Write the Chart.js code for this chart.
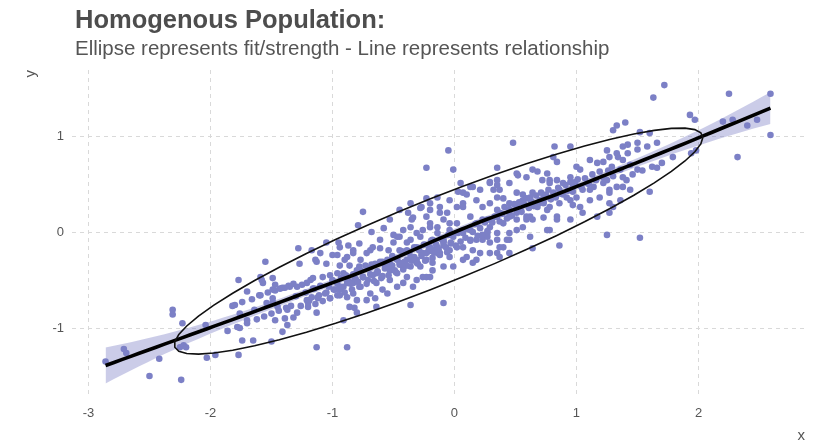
<!DOCTYPE html>
<html>
<head>
<meta charset="utf-8">
<title>Homogenous Population</title>
<script src="https://cdn.jsdelivr.net/npm/chart.js@4/dist/chart.umd.min.js"></script>
<style>
  html, body { margin: 0; padding: 0; background: #ffffff; }
  canvas { display: block; }
</style>
</head>
<body>
<canvas id="chart" width="818" height="442"></canvas>
<script>
// ---- text ----
const titleText = 'Homogenous Population:';
const subtitleText = 'Ellipse represents fit/strength - Line represents relationship';
const xAxisTitle = 'x';
const yAxisTitle = 'y';

// ---- tick labels ----
const xTicks = [-3, -2, -1, 0, 1, 2];
const yTicks = [-1, 0, 1];

// ---- observations [x, y], grouped along the x range ----
const tailLow = [
  [-2.86,-1.35],[-2.71,-1.22],[-2.69,-1.26],[-2.42,-1.32],[-2.50,-1.50],[-2.24,-1.54],
  [-2.31,-0.81],[-2.31,-0.86],[-2.23,-0.95],[-2.22,-1.18],[-2.20,-1.20],[-2.25,-1.20],
  [-2.04,-0.97],[-2.03,-1.31],[-1.96,-1.28],[-1.80,-0.76],[-1.77,-0.50],[-1.76,-1.00],
  [-1.74,-1.13],[-1.77,-1.28],[-1.70,-0.62],[-1.70,-0.92],[-1.65,-1.13],[-1.76,-0.85],
  [-1.64,-0.81]
];

// overlapping observations along the trend in the lower arm
const lowerDense = [
  [-1.86,-1.03],[-1.82,-0.77],[-1.78,-0.99],[-1.74,-0.73],[-1.70,-0.95],[-1.66,-0.70],
  [-1.62,-0.91],[-1.59,-0.66],[-1.56,-0.88],[-1.53,-0.63],[-1.50,-0.85],[-1.47,-0.61],
  [-1.44,-0.82],[-1.41,-0.58],[-1.38,-0.79],[-1.36,-0.56],[-1.34,-0.77],[-1.32,-0.54]
];

const lowerArm = [
  [-1.55,-0.31],[-1.58,-0.50],[-1.49,-0.48],[-1.60,-0.66],[-1.49,-0.60],[-1.43,-0.59],
  [-1.35,-0.57],[-1.25,-0.55],[-1.18,-0.50],[-1.16,-0.59],[-1.08,-0.47],[-1.02,-0.45],
  [-0.96,-0.43],[-0.88,-0.47],[-0.82,-0.50],[-1.12,-0.69],[-1.02,-0.69],[-0.94,-0.66],
  [-0.88,-0.68],[-0.80,-0.71],[-0.72,-0.71],[-0.65,-0.69],[-0.55,-0.64],[-0.82,-0.79],
  [-1.20,-0.78],[-1.29,-0.84],[-1.39,-0.90],[-1.47,-0.92],[-1.37,-0.97],[-1.41,-1.04],
  [-1.50,-1.14],[-1.13,-1.20],[-0.88,-1.20],[-0.64,-0.78],[-1.49,-0.73],
  [-1.28,-0.17],[-1.17,-0.19],[-1.10,-0.22],[-0.96,-0.24],[-0.88,-0.26],[-0.83,-0.22],
  [-0.69,-0.19],[-0.61,-0.17],[-0.54,-0.19],[-0.95,-0.11],[-0.87,-0.14],[-0.78,-0.12],
  [-0.75,0.21],[-0.79,0.07],[-0.58,0.04],[-0.68,0.00],[-0.50,-0.03],
  [-1.27,-0.33],[-1.14,-0.29],[-1.05,-0.33],[-0.94,-0.35],[-0.86,-0.35],[-0.78,-0.36],
  [-0.68,-0.34],[-0.59,-0.31],[-0.53,-0.33],
  [-1.05,-0.11],[-1.00,-0.24],[-0.90,-0.29],[-1.13,-0.31],[-1.59,-0.47],[-1.57,-0.53],
  [-1.47,-0.55],[-1.39,-0.58],[-1.29,-0.57],[-1.21,-0.53],[-1.16,-0.48],[-1.49,-0.69],
  [-1.54,-0.74],[-1.32,-0.89],[-1.13,-0.84],[-0.83,-0.53],[-1.45,-0.78],[-1.37,-0.81],
  [-1.21,-0.71],
  [-0.94,-0.16],[-0.83,-0.19],[-0.77,-0.29],[-0.72,-0.22],[-0.67,-0.16],[-0.61,-0.08],
  [-0.50,-0.11],[-0.91,-0.43],[-0.80,-0.40],[-0.75,-0.47],[-0.64,-0.43],[-0.53,-0.40],
  [-1.00,-0.50],[-0.94,-0.60],[-0.88,-0.53],[-0.83,-0.64],[-0.77,-0.57],[-0.69,-0.64],
  [-0.64,-0.53],[-0.59,-0.60],[-0.53,-0.50],[-0.91,-0.92],[-0.80,-0.84],[-0.86,-0.78]
];

// solid, heavily overlapped mass just under the trend, left of centre
const lowerSolid = [
  [-1.20,-0.74],[-1.17,-0.68],[-1.14,-0.75],[-1.11,-0.66],[-1.08,-0.72],[-1.05,-0.63],
  [-1.02,-0.69],[-0.99,-0.60],[-0.96,-0.66],[-0.93,-0.57],[-0.90,-0.63],[-0.87,-0.53],
  [-0.84,-0.60],[-0.81,-0.50],[-0.78,-0.57],[-0.75,-0.47],[-0.72,-0.54],[-0.69,-0.44],
  [-0.66,-0.51],[-0.63,-0.41],[-0.60,-0.48],[-0.57,-0.38],[-0.54,-0.45],[-0.51,-0.35],
  [-0.48,-0.42],[-0.45,-0.32],[-0.42,-0.39],[-0.39,-0.29],[-0.36,-0.36],[-0.33,-0.26],
  [-0.30,-0.33],[-0.27,-0.23],[-0.24,-0.30],[-0.21,-0.20],[-0.18,-0.27],[-0.15,-0.17],
  [-0.12,-0.24],[-0.09,-0.14],[-0.06,-0.21],[-0.03,-0.11]
];

const core = [
  [-0.35,0.13],[-0.28,0.25],[-0.20,0.30],[-0.12,0.20],[-0.31,-0.01],[-0.26,0.02],
  [-0.20,0.09],[-0.14,0.05],[-0.09,0.13],[-0.04,0.09],[-0.45,-0.05],[-0.39,-0.11],
  [-0.47,-0.29],[-0.42,-0.36],[-0.36,-0.26],[-0.31,-0.32],[-0.20,-0.16],[-0.14,-0.22],
  [-0.09,-0.11],[-0.04,-0.19],[-0.47,-0.57],[-0.39,-0.47],[-0.31,-0.50],[-0.23,-0.47],
  [-0.18,-0.40],
  [-0.05,0.85],[0.48,0.93],[-0.23,0.67],[-0.01,0.65],[0.35,0.67],[0.52,0.59],[0.59,0.57],
  [0.29,0.52],[0.35,0.49],[0.32,0.44],[0.03,0.42],[0.10,0.39],[-0.14,0.36],[-0.04,0.33],
  [-0.27,0.26],[-0.20,0.23],[-0.38,0.20],[-0.34,0.15],[-0.53,0.13],[0.18,0.33],[0.23,0.26],
  [0.29,0.30],[0.40,0.35],[0.45,0.30],[0.51,0.26],[0.56,0.39],[0.59,0.16],[0.45,-0.01],
  [0.43,-0.08],[0.37,-0.16],[0.35,-0.22],[0.27,-0.01],[0.23,-0.08],[0.29,-0.11],[0.13,-0.08],
  [0.15,-0.19],[0.10,-0.26],[0.18,-0.29],[0.02,-0.16],[-0.04,-0.26],[-0.01,-0.36],
  [-0.12,-0.22],[-0.18,-0.32],[-0.09,-0.36],[-0.26,-0.47],[-0.20,-0.47],[-0.34,-0.57],
  [-0.42,-0.53],[-0.36,-0.76],[-0.09,-0.74],[-0.45,-0.19],[-0.47,-0.43],[-0.36,-0.08],
  [-0.31,-0.16],[-0.26,-0.22],[-0.28,-0.05],[-0.20,0.05],[-0.14,-0.01],[-0.09,-0.08],
  [-0.04,0.02],[0.02,0.09],[0.07,-0.01],[-0.36,0.05],[-0.42,0.02],[-0.47,-0.05],
  [-0.23,0.16],[-0.12,0.26],[-0.06,0.20],[0.02,0.26],[0.07,0.30],[0.13,0.16],[0.18,0.09],
  [0.23,0.13],[0.35,0.16],[0.40,0.09],[0.29,0.05],[0.51,0.13],[0.45,0.20],[0.51,0.02],
  [0.56,0.05],[0.05,0.51],[0.13,0.47],[0.21,0.44],[-0.23,0.35],[-0.36,0.30],[-0.45,0.23],
  [-0.39,-0.19],[-0.34,-0.29],[-0.28,-0.36],[-0.23,-0.29],[-0.14,-0.16],[-0.18,-0.08],
  [0.07,-0.16],[0.13,0.02],[0.18,-0.08],[0.07,-0.29],[0.29,-0.22],[0.35,-0.08],
  [0.35,0.54],[0.51,0.61],[0.27,-0.05],[0.35,-0.01],[0.40,-0.16],[0.45,-0.08],[0.21,-0.22],
  [0.37,-0.26],[0.45,-0.22],[0.15,-0.32],[0.27,0.13],[0.37,0.20],[0.45,0.16],[0.54,0.23],
  [0.59,0.13],[0.07,0.26],[0.35,0.36],[0.51,0.41],[0.56,0.33],[0.07,0.41],[0.15,0.47],
  [0.29,0.51],[0.37,0.44],[0.45,0.51]
];

// overlapping observations that form the solid band along the trend
const coreDense = [
  [-1.30,-0.67],[-1.26,-0.77],[-1.22,-0.63],[-1.19,-0.71],[-1.15,-0.59],[-1.12,-0.68],
  [-1.10,-0.56],[-1.06,-0.64],[-1.03,-0.57],[-1.00,-0.51],[-0.98,-0.60],[-0.96,-0.54],
  [-0.93,-0.48],[-0.91,-0.57],[-0.89,-0.45],[-0.87,-0.51],[-0.85,-0.54],[-0.83,-0.44],
  [-0.81,-0.49],[-0.79,-0.52],[-0.77,-0.40],[-0.75,-0.47],[-0.73,-0.35],[-0.71,-0.50],
  [-0.69,-0.37],[-0.67,-0.45],[-0.65,-0.33],[-0.63,-0.42],[-0.61,-0.31],[-0.59,-0.46],
  [-0.57,-0.34],[-0.55,-0.29],[-0.53,-0.37],[-0.51,-0.25],[-0.49,-0.40],[-0.47,-0.28],
  [-0.45,-0.34],[-0.43,-0.20],[-0.41,-0.31],[-0.39,-0.35],[-0.37,-0.21],[-0.35,-0.30],
  [-0.33,-0.16],[-0.31,-0.29],[-0.29,-0.19],[-0.27,-0.25],[-0.25,-0.13],[-0.23,-0.22],
  [-0.21,-0.18],[-0.19,-0.09],[-0.17,-0.21],[-0.15,-0.13],[-0.13,-0.18],[-0.11,-0.07],
  [-0.09,-0.10],[-0.07,-0.16],[-0.05,-0.03],[-0.03,-0.12],[-0.01,-0.05],[0.01,-0.14],
  [0.03,-0.01],[0.05,-0.10],[0.07,0.02],[0.09,-0.06],[0.11,0.03],[0.13,-0.09],[0.15,0.00],
  [0.17,0.08],[0.19,-0.04],[0.21,0.04],[0.23,-0.03],[0.25,0.10],[0.27,0.01],[0.29,0.13],
  [0.31,0.10],[0.33,0.16],[0.35,0.23],[0.37,0.11],[0.39,0.19],[0.41,0.26],[0.43,0.14],
  [0.45,0.24],[0.47,0.17],[0.49,0.29],[0.51,0.20],[0.53,0.31],[0.55,0.21],[0.57,0.29],
  [0.59,0.35],[0.61,0.25],[0.63,0.32],[0.65,0.27],[0.67,0.38],[0.69,0.30],[0.71,0.41],
  [0.73,0.31],[0.75,0.39],[0.77,0.44],[0.79,0.34],[0.81,0.41],[0.83,0.36],[0.85,0.46],
  [0.87,0.40],[0.89,0.39],[0.91,0.49],[0.93,0.43],[0.95,0.52],[0.97,0.42],[0.99,0.49],
  [1.01,0.55],[1.04,0.47],[1.07,0.56],[1.10,0.50],[1.13,0.60],[1.16,0.54],[1.19,0.63],
  [1.22,0.57],[1.26,0.64],[1.30,0.58]
];

const upperArm = [
  [0.68,0.63],[0.72,0.54],[0.76,0.61],[0.64,0.41],[0.73,0.36],[0.64,0.13],[0.73,0.15],
  [0.62,-0.05],[0.76,0.02],[0.64,-0.17],[0.68,0.26],[0.76,0.23],
  [0.64,0.65],[0.78,0.54],[0.95,0.89],[1.00,0.68],[1.11,0.75],[1.17,0.72],[1.25,0.85],
  [1.33,0.82],[1.38,0.89],[0.89,0.51],[0.97,0.47],[1.05,0.44],[1.14,0.47],[1.22,0.51],
  [1.38,0.47],[0.62,0.36],[0.70,0.33],[0.78,0.26],[0.86,0.30],[0.95,0.33],[1.03,0.26],
  [1.11,0.33],[1.19,0.36],[1.27,0.41],[1.36,0.33],[0.62,0.16],[0.84,0.16],[0.95,0.13],
  [1.05,0.20],[1.17,0.16],[1.27,0.20],
  [1.33,1.11],[1.40,1.14],[1.30,1.06],[1.52,1.04],[1.60,1.03],[1.42,0.91],[1.50,0.93],
  [1.22,0.73],[1.27,0.78],[1.38,0.75],[0.82,0.89],[0.81,0.78],[0.84,0.73],[1.03,0.65],
  [1.29,0.68],[1.36,0.65],[1.44,0.70],[1.50,0.65],[1.66,0.67],[0.78,0.51],[0.84,0.54],
  [0.86,0.44],[0.95,0.57],[0.99,0.52],[1.09,0.51],[1.11,0.44],[1.25,0.54],[1.27,0.44],
  [1.33,0.47],[1.41,0.54],[1.44,0.44],[1.60,0.42],[0.73,0.30],[0.92,0.36],[0.97,0.28],
  [1.00,0.36],[1.27,0.30],[1.30,0.26],[0.84,0.13],[0.78,0.02],[0.86,-0.14],[1.25,-0.03],
  [1.52,-0.06],[1.63,1.40]
];

// overlapping observations along the trend in the upper arm
const upperDense = [
  [1.34,0.78],[1.38,0.57],[1.42,0.82],[1.46,0.60],[1.50,0.86],[1.54,0.64],
  [1.58,0.89],[1.62,0.68],[1.66,0.93],[1.70,0.72]
];

const tailHigh = [
  [1.72,1.53],[1.79,0.78],[1.93,1.22],[1.97,1.17],[1.94,0.82],[1.98,0.85],[2.25,1.44],
  [2.59,1.44],[2.20,1.15],[2.28,1.17],[2.40,1.11],[2.48,1.17],[2.59,1.01],[2.32,0.78]
];

// ---- styling ----
const FONT = '"Liberation Sans", Arial, Helvetica, sans-serif';
const POINT_COLOR = '#7c80c6';
const BAND_COLOR = 'rgba(124,128,198,0.40)';
const GRID_COLOR = '#d9d9d9';
const TEXT_COLOR = '#555555';

const observations = [
  ...tailLow, ...lowerDense, ...lowerArm, ...lowerSolid, ...core, ...coreDense,
  ...upperArm, ...upperDense, ...tailHigh
];
const xv = observations.map(p => p[0]);
const yv = observations.map(p => p[1]);

// Local quadratic regression (tricube weights, span 0.75) with pointwise 95% band.
function loessBand(xs, ys, span, nGrid) {
  const n = xs.length;
  const q = Math.floor(n * span);
  const rowAt = x0 => {
    const dist = xs.map(v => Math.abs(v - x0));
    const h = dist.slice().sort((a, b) => a - b)[q - 1];
    const w = dist.map(d => { const u = d / h; return u < 1 ? Math.pow(1 - u * u * u, 3) : 0; });
    let s0 = 0, s1 = 0, s2 = 0, s3 = 0, s4 = 0;
    for (let i = 0; i < n; i++) {
      const d = xs[i] - x0, d2 = d * d, wi = w[i];
      s0 += wi; s1 += wi * d; s2 += wi * d2; s3 += wi * d2 * d; s4 += wi * d2 * d2;
    }
    const c11 = s2 * s4 - s3 * s3, c12 = -(s1 * s4 - s3 * s2), c13 = s1 * s3 - s2 * s2;
    const det = s0 * c11 + s1 * c12 + s2 * c13;
    const r0 = c11 / det, r1 = c12 / det, r2 = c13 / det;
    return xs.map((v, i) => { const d = v - x0; return w[i] * (r0 + r1 * d + r2 * d * d); });
  };
  let rss = 0, trL = 0, trLL = 0;
  for (let i = 0; i < n; i++) {
    const l = rowAt(xs[i]);
    let f = 0, ss = 0;
    for (let j = 0; j < n; j++) { f += l[j] * ys[j]; ss += l[j] * l[j]; }
    rss += (ys[i] - f) * (ys[i] - f); trL += l[i]; trLL += ss;
  }
  const delta1 = n - 2 * trL + trLL;
  const s = Math.sqrt(rss / delta1);
  const z = 1.959964;
  const tq = z + (z * z * z + z) / (4 * delta1);
  const lo = Math.min(...xs), hi = Math.max(...xs);
  const out = [];
  for (let k = 0; k < nGrid; k++) {
    const x0 = lo + (hi - lo) * k / (nGrid - 1);
    const l = rowAt(x0);
    let f = 0, ss = 0;
    for (let j = 0; j < n; j++) { f += l[j] * ys[j]; ss += l[j] * l[j]; }
    const se = s * Math.sqrt(ss);
    out.push({ x: x0, y: f, lower: f - tq * se, upper: f + tq * se });
  }
  return out;
}

// 95% data ellipse from a multivariate-t (nu = 5) location/scatter estimate.
function dataEllipse(xs, ys, level, segments) {
  const n = xs.length, nu = 5, p = 2;
  let w = new Array(n).fill(1);
  let mx = xs.reduce((a, b) => a + b, 0) / n;
  let my = ys.reduce((a, b) => a + b, 0) / n;
  for (let it = 0; it < 25; it++) {
    const sw = w.reduce((a, b) => a + b, 0);
    let cxx = 0, cxy = 0, cyy = 0;
    for (let i = 0; i < n; i++) {
      const dx = xs[i] - mx, dy = ys[i] - my;
      cxx += w[i] * dx * dx / sw; cxy += w[i] * dx * dy / sw; cyy += w[i] * dy * dy / sw;
    }
    const det = cxx * cyy - cxy * cxy;
    const w0 = w;
    w = new Array(n);
    let maxDiff = 0;
    for (let i = 0; i < n; i++) {
      const dx = xs[i] - mx, dy = ys[i] - my;
      const Q = (cyy * dx * dx - 2 * cxy * dx * dy + cxx * dy * dy) / det;
      w[i] = (nu + p) / (nu + Q);
      maxDiff = Math.max(maxDiff, Math.abs(w[i] - w0[i]));
    }
    const sw2 = w.reduce((a, b) => a + b, 0);
    mx = xs.reduce((a, v, i) => a + w[i] * v, 0) / sw2;
    my = ys.reduce((a, v, i) => a + w[i] * v, 0) / sw2;
    if (maxDiff < 0.01) break;
  }
  let sxx = 0, sxy = 0, syy = 0;
  for (let i = 0; i < n; i++) {
    const dx = xs[i] - mx, dy = ys[i] - my;
    sxx += w[i] * dx * dx / n; sxy += w[i] * dx * dy / n; syy += w[i] * dy * dy / n;
  }
  const a = Math.sqrt(sxx), b = sxy / a, c = Math.sqrt(syy - b * b);
  const dfd = n - 1;
  const fq = (dfd / 2) * (Math.pow(1 - level, -2 / dfd) - 1);
  const radius = Math.sqrt(2 * fq);
  const pts = [];
  for (let k = 0; k <= segments; k++) {
    const t = 2 * Math.PI * k / segments;
    pts.push({ x: mx + radius * a * Math.cos(t), y: my + radius * (b * Math.cos(t) + c * Math.sin(t)) });
  }
  return pts;
}

const smooth = loessBand(xv, yv, 0.75, 80);
const ellipse = dataEllipse(xv, yv, 0.95, 51);

const headerPlugin = {
  id: 'header',
  afterDraw(chart) {
    const c = chart.ctx;
    c.save();
    c.textAlign = 'left';
    c.textBaseline = 'alphabetic';
    c.fillStyle = '#4d4d4d';
    c.font = 'bold 25.5px ' + FONT;
    c.fillText(titleText, 75, 28);
    c.fillStyle = TEXT_COLOR;
    c.font = '20.5px ' + FONT;
    c.fillText(subtitleText, 75, 55);
    c.restore();
  }
};

Chart.defaults.font.family = FONT;

new Chart(document.getElementById('chart'), {
  type: 'scatter',
  data: {
    datasets: [
      {
        label: 'ellipse',
        data: ellipse,
        showLine: true,
        borderColor: '#111111',
        borderWidth: 1.6,
        pointRadius: 0,
        tension: 0,
        fill: false,
        order: 0
      },
      {
        label: 'fit',
        data: smooth.map(d => ({ x: d.x, y: d.y })),
        showLine: true,
        borderColor: '#000000',
        borderWidth: 3.6,
        pointRadius: 0,
        fill: false,
        order: 1
      },
      {
        label: 'upper',
        data: smooth.map(d => ({ x: d.x, y: d.upper })),
        showLine: true,
        borderColor: 'rgba(0,0,0,0)',
        backgroundColor: BAND_COLOR,
        pointRadius: 0,
        fill: '+1',
        order: 2
      },
      {
        label: 'lower',
        data: smooth.map(d => ({ x: d.x, y: d.lower })),
        showLine: true,
        borderColor: 'rgba(0,0,0,0)',
        pointRadius: 0,
        fill: false,
        order: 3
      },
      {
        label: 'points',
        data: observations.map(p => ({ x: p[0], y: p[1] })),
        pointRadius: 3.3,
        pointBackgroundColor: POINT_COLOR,
        pointBorderColor: POINT_COLOR,
        pointBorderWidth: 0,
        order: 4
      }
    ]
  },
  options: {
    responsive: false,
    animation: false,
    events: [],
    devicePixelRatio: 1,
    layout: { padding: { left: 0, right: 13, top: 70, bottom: 0 } },
    plugins: {
      legend: { display: false },
      tooltip: { enabled: false },
      title: { display: false }
    },
    scales: {
      x: {
        type: 'linear',
        min: -3.135,
        max: 2.873,
        afterBuildTicks: axis => { axis.ticks = xTicks.map(v => ({ value: v })); },
        afterFit: axis => { axis.height = 48; },
        grid: { color: GRID_COLOR, lineWidth: 1, drawTicks: false },
        border: { display: false, dash: [4, 4] },
        ticks: { color: TEXT_COLOR, font: { size: 13 }, padding: 12, callback: v => String(v) },
        title: {
          display: true, text: xAxisTitle, align: 'end', color: TEXT_COLOR,
          font: { size: 15, lineHeight: 0.8 }, padding: 0
        }
      },
      y: {
        type: 'linear',
        min: -1.6875,
        max: 1.6875,
        afterBuildTicks: axis => { axis.ticks = yTicks.map(v => ({ value: v })); },
        afterFit: axis => { axis.width = 72; },
        grid: { color: GRID_COLOR, lineWidth: 1, drawTicks: false },
        border: { display: false, dash: [4, 4] },
        ticks: { color: TEXT_COLOR, font: { size: 13 }, padding: 8, callback: v => String(v) },
        title: {
          display: true, text: yAxisTitle, align: 'end', color: TEXT_COLOR,
          font: { size: 15, lineHeight: 0.8 }, padding: { top: 25, bottom: 0 }
        }
      }
    }
  },
  plugins: [headerPlugin]
});
</script>
</body>
</html>
